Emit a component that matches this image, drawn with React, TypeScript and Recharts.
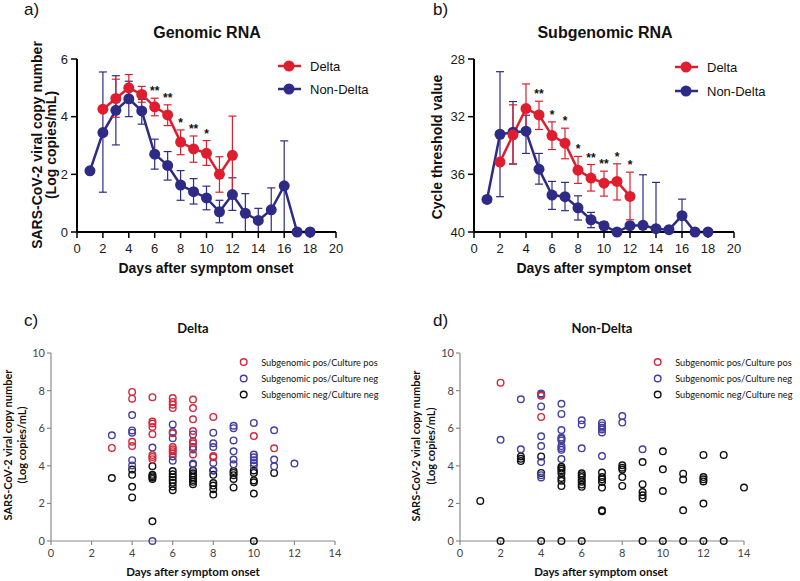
import React from "react";
import {
  ComposedChart,
  ScatterChart,
  Line,
  Scatter,
  XAxis,
  YAxis,
  ErrorBar,
} from "recharts";

// ---- panel a / b : means with error bars ----
const deltaDays = [2, 3, 4, 5, 6, 7, 8, 9, 10, 11, 12];
const nonDeltaDays = [1, 2, 3, 4, 5, 6, 7, 8, 9, 10, 11, 12, 13, 14, 15, 16, 17, 18];

const gDelta = [4.26, 4.63, 5.0, 4.77, 4.34, 4.06, 3.12, 2.88, 2.73, 2.0, 2.66];
const gDeltaLow = [null, 3.98, 4.6, 4.5, 4.03, 3.69, 2.68, 2.42, 2.31, 1.38, 1.3];
const gDeltaHigh = [null, 5.3, 5.46, 5.05, 4.64, 4.41, 3.54, 3.33, 3.17, 2.61, 4.02];

const gNon = [2.12, 3.45, 4.22, 4.62, 4.2, 2.7, 2.31, 1.63, 1.4, 1.18, 0.7, 1.3, 0.65, 0.4, 0.77, 1.6, 0, 0];
const gNonLow = [null, 1.38, 3.02, 4.0, 3.74, 2.18, 1.8, 1.1, 0.97, 0.77, 0.32, 0.75, 0, 0, 0, 0, null, null];
const gNonHigh = [null, 5.55, 5.42, 5.23, 4.6, 3.22, 2.79, 2.13, 1.85, 1.59, 1.1, 1.88, 1.33, 0.82, 1.53, 3.16, null, null];

const gSigDays = [6, 7, 8, 9, 10];
const gSigLabels = ["**", "**", "*", "**", "*"];

// subgenomic Ct values (axis reversed), low = numerically smaller
const sgDelta = [35.15, 33.26, 31.44, 31.88, 33.31, 33.84, 35.71, 36.26, 36.61, 36.49, 37.53];
const sgDeltaLow = [null, 31.18, 29.73, 30.93, 32.36, 32.8, 34.76, 35.32, 35.78, 35.27, 35.85];
const sgDeltaHigh = [null, 35.27, 33.1, 32.89, 34.28, 34.92, 36.63, 37.16, 37.51, 37.78, 39.15];

const sgNon = [37.74, 33.22, 33.08, 33.01, 35.64, 37.44, 37.55, 38.32, 39.15, 39.56, 40, 39.56, 39.54, 39.77, 39.84, 38.87, 40, 40];
const sgNonLow = [null, 28.88, 30.95, 31.9, 34.55, 36.49, 36.56, 37.49, 38.64, 39.31, null, null, 36.03, 36.56, null, 37.72, null, null];
const sgNonHigh = [null, 37.55, 35.29, 34.55, 36.68, 38.43, 38.52, 39.17, 39.7, 39.85, null, null, 40, 40, null, 40, null, null];

const sgSigDays = [5, 6, 7, 8, 9, 10, 11, 12];
const sgSigLabels = ["**", "*", "*", "*", "**", "**", "*", "*"];

const dayTicks = [0, 2, 4, 6, 8, 10, 12, 14, 16, 18, 20];
const gTicks = [0, 2, 4, 6];
const sgTicks = [28, 32, 36, 40];

// ---- panel c / d : individual samples, indexed by day ----
const cPosPos: number[][] = [
  [], [], [],
  [4.95],
  [7.93, 7.57, 5.28, 5.05],
  [7.65, 6.35, 6.25, 6.07, 5.68, 4.57, 4.47, 4.35],
  [7.6, 7.4, 7.25, 7.07, 5.73, 5.0, 4.88, 4.78, 4.65],
  [7.52, 7.07, 6.47, 5.85, 5.3, 5.2, 4.6],
  [6.6, 4.52, 4.45],
  [],
  [5.58],
  [4.93],
];
const cPosNeg: number[][] = [
  [], [], [],
  [5.62],
  [6.7, 5.88, 5.76, 4.3, 4.02],
  [4.97, 0],
  [6.2, 5.8, 5.47, 4.5, 4.27],
  [5.67, 5.0, 4.87, 4.12, 4.07],
  [5.76, 5.2, 5.0, 4.15, 3.75],
  [6.13, 6.0, 5.35, 4.77, 4.33, 4.08],
  [6.28, 4.6, 4.45, 4.3, 4.15, 4.02],
  [5.89, 4.33, 3.97],
  [4.12],
];
const cNegNeg: number[][] = [
  [], [], [],
  [3.35],
  [3.8, 3.52, 2.88, 2.32],
  [3.98, 3.52, 3.45, 3.38, 3.3, 1.05],
  [3.72, 3.55, 3.4, 3.25, 3.1, 2.9, 2.7],
  [3.75, 3.6, 3.5, 3.38, 3.25, 3.15, 3.02],
  [3.75, 3.52, 3.08, 2.95, 2.75, 2.47],
  [3.72, 3.62, 3.5, 3.3, 2.85],
  [3.75, 3.62, 3.22, 3.12, 2.52, 0],
  [3.62],
];

const dPosPos: number[][] = [[], [], [8.42], [], [7.72, 6.6]];
const dPosNeg: number[][] = [
  [], [],
  [5.38],
  [7.54, 4.88],
  [7.85, 7.78, 7.16, 5.57, 5.05, 4.2, 3.5, 3.38],
  [7.3, 6.76, 5.9, 5.5, 5.43, 5.35, 5.05, 4.95, 4.85, 4.36],
  [6.42, 6.2, 4.93],
  [6.28, 6.15, 6.03, 5.93, 5.77, 4.52],
  [6.65, 6.3],
  [4.88],
];
const dNegNeg: number[][] = [
  [],
  [2.13],
  [0],
  [4.5, 4.37, 4.25],
  [4.5, 3.62, 0],
  [3.95, 3.85, 3.75, 3.6, 3.35, 3.2, 2.92, 0],
  [3.6, 3.5, 3.4, 3.25, 3.15, 3.0, 2.88, 0],
  [3.64, 3.4, 3.28, 3.14, 2.84, 1.63, 1.58],
  [4.03, 3.9, 3.8, 3.4, 2.93],
  [4.2, 3.02, 2.6, 2.43, 2.27, 0],
  [4.77, 3.81, 2.66, 0],
  [3.58, 3.27, 1.63, 0],
  [4.58, 3.4, 3.28, 3.17, 1.99, 0],
  [4.58, 0],
  [2.84],
];

const scX = [0, 2, 4, 6, 8, 10, 12, 14];
const scY = [0, 2, 4, 6, 8, 10];

const RED = "#DE1E2E";
const BLUE = "#2E2B87";
const S_RED = "#D3283B";
const S_BLUE = "#433F9F";
const S_BLACK = "#111111";
const ARIAL = "Liberation Sans, Arial, sans-serif";
const CAL = "Lato, sans-serif";

function series(days: number[], vals: number[], low: (number | null)[], high: (number | null)[]) {
  return days.map((d, i) => ({
    day: d,
    v: vals[i],
    err: low[i] == null ? null : [vals[i] - (low[i] as number), (high[i] as number) - vals[i]],
  }));
}

function stars(sigDays: number[], labels: string[], edge: (number | null)[]) {
  return sigDays.map((d, i) => ({
    day: d,
    y: edge[deltaDays.indexOf(d)],
    label: labels[i],
  }));
}

function points(byDay: number[][]) {
  const out: { x: number; y: number }[] = [];
  byDay.forEach((vals, day) => vals.forEach((v) => out.push({ x: day, y: v })));
  return out;
}

const StarShape = (p: any) => (
  <text x={p.cx} y={p.cy - 3} textAnchor="middle" fontSize={12} fontWeight="bold" fill="#111" fontFamily={ARIAL}>
    {p.payload.label}
  </text>
);

const ring = (color: string) => (p: any) => (
  <circle cx={p.cx} cy={p.cy} r={3.3} fill="none" stroke={color} strokeWidth={1.4} />
);

function MeanPanel({ left, marginLeft, marginRight, domain, ticks, reversed, delta, non, sig }: any) {
  const axisTick = { fontSize: 13, fill: "#1a1a1a", fontFamily: ARIAL };
  return (
    <div style={{ position: "absolute", left, top: 0 }}>
      <ComposedChart width={400} height={300} margin={{ top: 59, right: marginRight, bottom: 38, left: marginLeft }}>
        <XAxis
          type="number"
          dataKey="day"
          domain={[0, 20]}
          ticks={dayTicks}
          interval={0}
          height={30}
          tick={axisTick}
          tickSize={6}
          tickMargin={6}
          stroke="#000"
          axisLine={{ stroke: "#000", strokeWidth: 2 }}
          tickLine={{ stroke: "#000", strokeWidth: 1.5 }}
        />
        <YAxis
          type="number"
          domain={domain}
          ticks={ticks}
          reversed={reversed}
          interval={0}
          width={30}
          tick={axisTick}
          tickSize={6}
          tickMargin={3}
          axisLine={{ stroke: "#000", strokeWidth: 2 }}
          tickLine={{ stroke: "#000", strokeWidth: 1.5 }}
        />
        <Line data={non} dataKey="v" stroke={BLUE} strokeWidth={2.5} dot={{ r: 5.5, fill: BLUE, stroke: BLUE, strokeWidth: 0 }} activeDot={false} isAnimationActive={false}>
          <ErrorBar dataKey="err" direction="y" width={4} stroke={BLUE} strokeWidth={1.2} />
        </Line>
        <Line data={delta} dataKey="v" stroke={RED} strokeWidth={2.5} dot={{ r: 5.5, fill: RED, stroke: RED, strokeWidth: 0 }} activeDot={false} isAnimationActive={false}>
          <ErrorBar dataKey="err" direction="y" width={4} stroke={RED} strokeWidth={1.2} />
        </Line>
        <Scatter data={sig} dataKey="y" shape={StarShape} isAnimationActive={false} />
      </ComposedChart>
    </div>
  );
}

function SamplePanel({ left, marginLeft, marginRight, posPos, posNeg, negNeg }: any) {
  const tick = { fontSize: 11, fill: "#444", fontFamily: CAL };
  const axis = { stroke: "#8a8a8a", strokeWidth: 1.2 };
  return (
    <div style={{ position: "absolute", left, top: 300 }}>
      <ScatterChart width={400} height={281} margin={{ top: 53, right: marginRight, bottom: 20, left: marginLeft }}>
        <XAxis type="number" dataKey="x" domain={[0, 14]} ticks={scX} interval={0} height={20} tick={tick} tickSize={4} tickMargin={4} axisLine={axis} tickLine={axis} />
        <YAxis type="number" dataKey="y" domain={[0, 10]} ticks={scY} interval={0} width={30} tick={tick} tickSize={4} tickMargin={2} axisLine={axis} tickLine={axis} />
        <Scatter data={points(negNeg)} shape={ring(S_BLACK)} isAnimationActive={false} />
        <Scatter data={points(posNeg)} shape={ring(S_BLUE)} isAnimationActive={false} />
        <Scatter data={points(posPos)} shape={ring(S_RED)} isAnimationActive={false} />
      </ScatterChart>
    </div>
  );
}

function Overlay() {
  const legendLine = (x: number, y: number, color: string, label: string) => (
    <g>
      <line x1={x - 11} x2={x + 12} y1={y} y2={y} stroke={color} strokeWidth={2.5} />
      <circle cx={x} cy={y} r={5.5} fill={color} />
      <text x={x + 21} y={y + 4.5} fontSize={13} fontFamily={ARIAL} fill="#111">{label}</text>
    </g>
  );
  const legendRing = (x: number, y: number, color: string, label: string) => (
    <g>
      <circle cx={x} cy={y} r={3.3} fill="none" stroke={color} strokeWidth={1.4} />
      <text x={x + 17.5} y={y + 3.6} fontSize={9.2} fontFamily={CAL} fill="#111">
        {label}
      </text>
    </g>
  );
  return (
    <svg width={800} height={581} style={{ position: "absolute", left: 0, top: 0, pointerEvents: "none" }}>
      <g fontFamily={ARIAL} fill="#111">
        <text x={24} y={15} fontSize={17}>a)</text>
        <text x={433} y={15} fontSize={17}>b)</text>
        <text x={24} y={326} fontSize={17}>c)</text>
        <text x={433} y={326} fontSize={17}>d)</text>
        <text x={207} y={38} fontSize={16} fontWeight="bold" textAnchor="middle">Genomic RNA</text>
        <text x={605} y={38} fontSize={16} fontWeight="bold" textAnchor="middle">Subgenomic RNA</text>
        <text x={206} y={273} fontSize={14} fontWeight="bold" textAnchor="middle">Days after symptom onset</text>
        <text x={604} y={273} fontSize={14} fontWeight="bold" textAnchor="middle">Days after symptom onset</text>
        <text transform="translate(42,145) rotate(-90)" fontSize={14} fontWeight="bold" textAnchor="middle">SARS-CoV-2 viral copy number</text>
        <text transform="translate(56,145) rotate(-90)" fontSize={14} fontWeight="bold" textAnchor="middle">(Log copies/mL)</text>
        <text transform="translate(442,147) rotate(-90)" fontSize={14} fontWeight="bold" textAnchor="middle">Cycle threshold value</text>
      </g>
      {legendLine(289, 66, RED, "Delta")}
      {legendLine(289, 89, BLUE, "Non-Delta")}
      {legendLine(686, 67, RED, "Delta")}
      {legendLine(686, 91, BLUE, "Non-Delta")}
      <g fontFamily={CAL} fill="#111" fontWeight="bold">
        <text x={193} y={333} fontSize={13} textAnchor="middle">Delta</text>
        <text x={602} y={333} fontSize={13} textAnchor="middle">Non-Delta</text>
        <text x={193} y={576} fontSize={11.5} textAnchor="middle">Days after symptom onset</text>
        <text x={601} y={576} fontSize={11.5} textAnchor="middle">Days after symptom onset</text>
        <text transform="translate(12,445) rotate(-90)" fontSize={11} textAnchor="middle">SARS-CoV-2 viral copy number</text>
        <text transform="translate(26,445) rotate(-90)" fontSize={11} textAnchor="middle">(Log copies/mL)</text>
        <text transform="translate(420,446) rotate(-90)" fontSize={11} textAnchor="middle">SARS-CoV-2 viral copy number</text>
        <text transform="translate(435,446) rotate(-90)" fontSize={11} textAnchor="middle">(Log copies/mL)</text>
      </g>
      {legendRing(243.7, 362, S_RED, "Subgenomic pos/Culture pos")}
      {legendRing(243.7, 378.5, S_BLUE, "Subgenomic pos/Culture neg")}
      {legendRing(243.7, 394.5, S_BLACK, "Subgenomic neg/Culture neg")}
      {legendRing(657.7, 362, S_RED, "Subgenomic pos/Culture pos")}
      {legendRing(657.7, 378.5, S_BLUE, "Subgenomic pos/Culture neg")}
      {legendRing(657.7, 394.5, S_BLACK, "Subgenomic neg/Culture neg")}
    </svg>
  );
}

export default function App() {
  const gDeltaData = series(deltaDays, gDelta, gDeltaLow, gDeltaHigh);
  const gNonData = series(nonDeltaDays, gNon, gNonLow, gNonHigh);
  const sgDeltaData = series(deltaDays, sgDelta, sgDeltaLow, sgDeltaHigh);
  const sgNonData = series(nonDeltaDays, sgNon, sgNonLow, sgNonHigh);

  return (
    <div style={{ position: "absolute", left: 0, top: 0, width: 800, height: 581, background: "#fff", overflow: "hidden" }}>
      <MeanPanel
        left={0}
        marginLeft={47}
        marginRight={64}
        domain={[0, 6]}
        ticks={gTicks}
        reversed={false}
        delta={gDeltaData}
        non={gNonData}
        sig={stars(gSigDays, gSigLabels, gDeltaHigh)}
      />
      <MeanPanel
        left={400}
        marginLeft={44}
        marginRight={66}
        domain={[28, 40]}
        ticks={sgTicks}
        reversed={true}
        delta={sgDeltaData}
        non={sgNonData}
        sig={stars(sgSigDays, sgSigLabels, sgDeltaLow)}
      />
      <SamplePanel left={0} marginLeft={21} marginRight={65} posPos={cPosPos} posNeg={cPosNeg} negNeg={cNegNeg} />
      <SamplePanel left={400} marginLeft={30} marginRight={56} posPos={dPosPos} posNeg={dPosNeg} negNeg={dNegNeg} />
      <Overlay />
    </div>
  );
}
